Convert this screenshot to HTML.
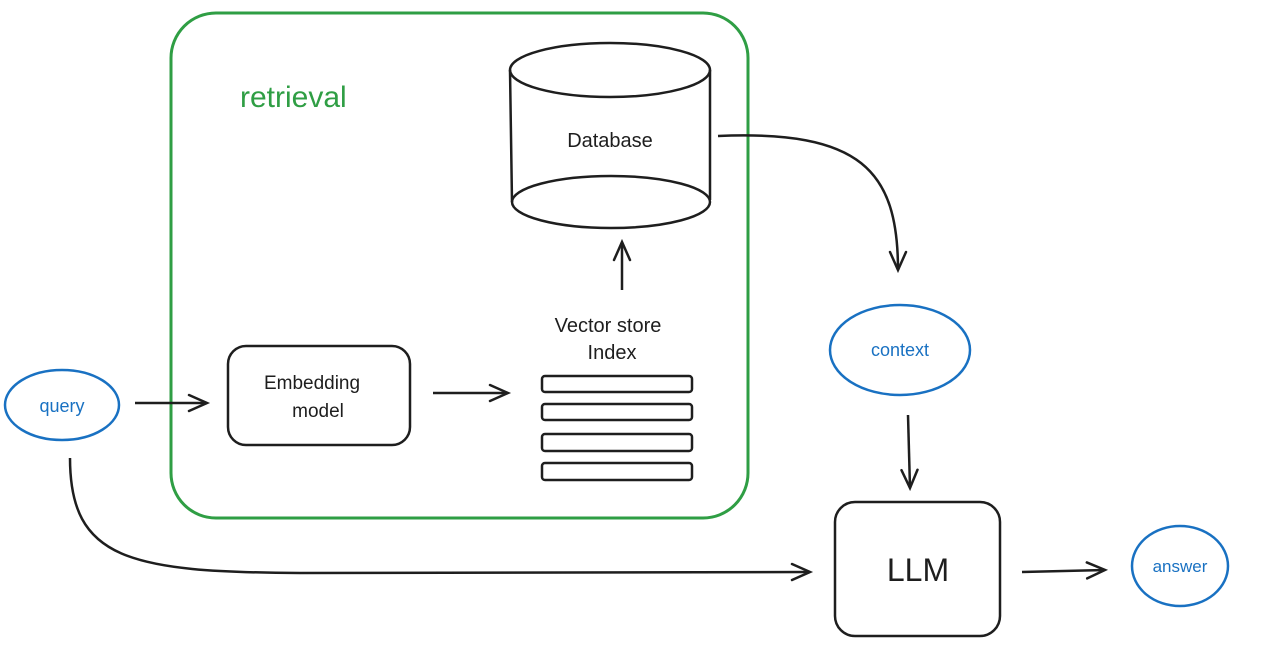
<!DOCTYPE html>
<html><head><meta charset="utf-8"><style>
html,body{margin:0;padding:0;background:#fff;}
svg{display:block;}
text{font-family:"Liberation Sans",sans-serif;}
</style></head><body>
<svg width="1272" height="666" viewBox="0 0 1272 666" xmlns="http://www.w3.org/2000/svg">
<defs>
<marker id="ah" markerWidth="24" markerHeight="20" refX="20" refY="10" orient="auto" markerUnits="userSpaceOnUse">
<path d="M2,2 L20,10 L2,18" fill="none" stroke="#1e1e1e" stroke-width="2.5" stroke-linecap="round"/>
</marker>
</defs>
<rect x="171" y="13" width="577" height="505" rx="45" fill="none" stroke="#2f9e44" stroke-width="3"/>
<text x="240" y="107" font-size="30" fill="#2f9e44">retrieval</text>
<!-- cylinder -->
<path d="M510,70 L512,202 M710,70 L710,200" stroke="#1e1e1e" stroke-width="2.5" fill="none"/>
<ellipse cx="610" cy="70" rx="100" ry="27" fill="none" stroke="#1e1e1e" stroke-width="2.5"/>
<ellipse cx="611" cy="202" rx="99" ry="26" fill="none" stroke="#1e1e1e" stroke-width="2.5"/>
<text x="610" y="147" font-size="20" text-anchor="middle" fill="#1e1e1e">Database</text>
<line x1="622" y1="290" x2="622" y2="242" stroke="#1e1e1e" stroke-width="2.5" marker-end="url(#ah)"/>
<text x="608" y="332" font-size="20" text-anchor="middle" fill="#1e1e1e">Vector store</text>
<text x="612" y="359" font-size="20" text-anchor="middle" fill="#1e1e1e">Index</text>
<g fill="none" stroke="#1e1e1e" stroke-width="2.5">
<rect x="542" y="376" width="150" height="16" rx="3"/>
<rect x="542" y="404" width="150" height="16" rx="3"/>
<rect x="542" y="434" width="150" height="17" rx="3"/>
<rect x="542" y="463" width="150" height="17" rx="3"/>
<rect x="228" y="346" width="182" height="99" rx="18"/>
<rect x="835" y="502" width="165" height="134" rx="20"/>
</g>
<text x="312" y="389" font-size="19" text-anchor="middle" fill="#1e1e1e">Embedding</text>
<text x="318" y="417" font-size="19" text-anchor="middle" fill="#1e1e1e">model</text>
<line x1="433" y1="393" x2="508" y2="393" stroke="#1e1e1e" stroke-width="2.5" marker-end="url(#ah)"/>
<ellipse cx="62" cy="405" rx="57" ry="35" fill="none" stroke="#1971c2" stroke-width="2.5"/>
<text x="62" y="412" font-size="18" text-anchor="middle" fill="#1971c2">query</text>
<line x1="135" y1="403" x2="207" y2="403" stroke="#1e1e1e" stroke-width="2.5" marker-end="url(#ah)"/>
<ellipse cx="900" cy="350" rx="70" ry="45" fill="none" stroke="#1971c2" stroke-width="2.5"/>
<text x="900" y="356" font-size="18" text-anchor="middle" fill="#1971c2">context</text>
<path d="M718,136 C860,130 898,170 898,270" fill="none" stroke="#1e1e1e" stroke-width="2.5" marker-end="url(#ah)"/>
<line x1="908" y1="415" x2="910" y2="488" stroke="#1e1e1e" stroke-width="2.5" marker-end="url(#ah)"/>
<text x="918" y="581" font-size="32" text-anchor="middle" fill="#1e1e1e">LLM</text>
<line x1="1022" y1="572" x2="1105" y2="570" stroke="#1e1e1e" stroke-width="2.5" marker-end="url(#ah)"/>
<ellipse cx="1180" cy="566" rx="48" ry="40" fill="none" stroke="#1971c2" stroke-width="2.5"/>
<text x="1180" y="572" font-size="17" text-anchor="middle" fill="#1971c2">answer</text>
<path d="M70,458 C70,560 130,572 300,573 L810,572" fill="none" stroke="#1e1e1e" stroke-width="2.5" marker-end="url(#ah)"/>
</svg>
</body></html>
